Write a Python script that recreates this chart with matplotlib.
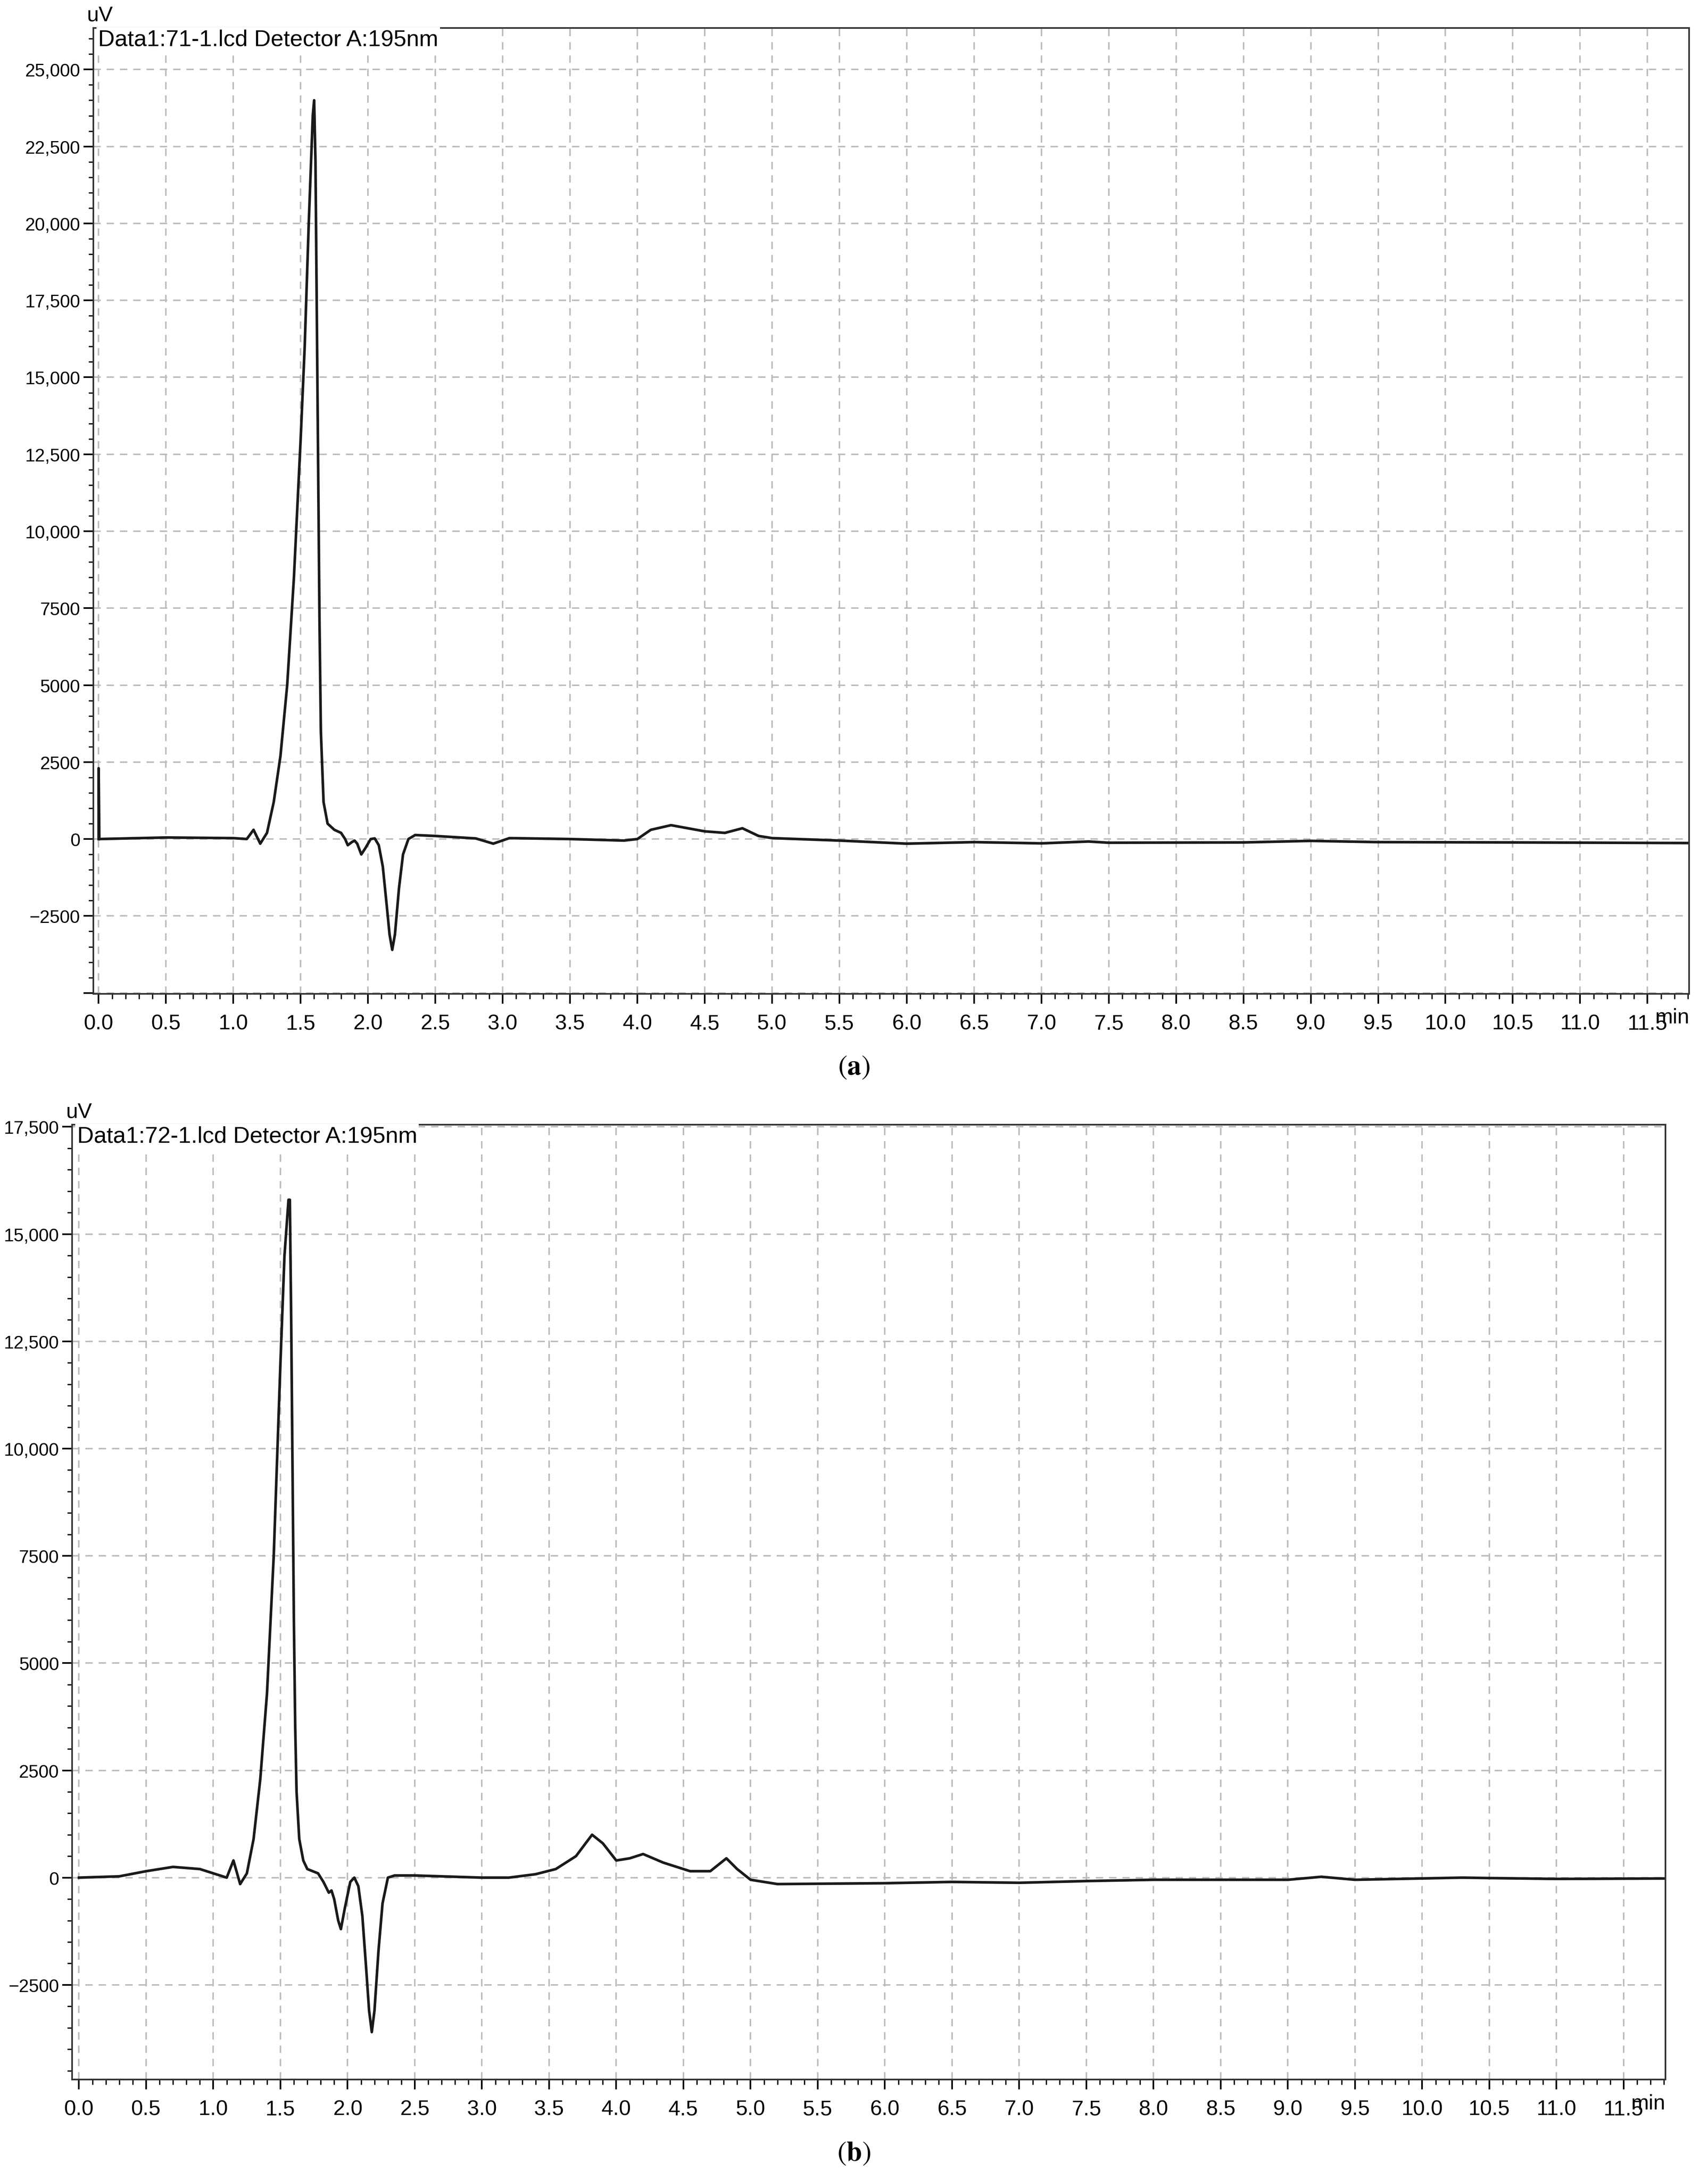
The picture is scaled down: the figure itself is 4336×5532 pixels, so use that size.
import matplotlib
matplotlib.use("Agg")
import matplotlib.pyplot as plt
from matplotlib.ticker import MultipleLocator, FuncFormatter

plt.rcParams['font.family'] = ['Liberation Sans', 'DejaVu Sans']
plt.rcParams['mathtext.fontset'] = 'stix'

# Chromatogram (a): 71-1.lcd
t_a = [0.0, 0.0, 0.005, 0.5, 1.0, 1.1, 1.15, 1.2, 1.25, 1.3, 1.35, 1.4, 1.45, 1.5, 1.53,
       1.56, 1.59, 1.6, 1.61, 1.62, 1.63, 1.64, 1.65, 1.67, 1.7, 1.75, 1.8, 1.83, 1.85,
       1.88, 1.9, 1.92, 1.95, 1.98, 2.02, 2.05, 2.08, 2.11, 2.14, 2.16, 2.18, 2.2, 2.23,
       2.26, 2.3, 2.35, 2.5, 2.8, 2.93, 3.05, 3.5, 3.9, 4.0, 4.1, 4.25, 4.5, 4.65, 4.78,
       4.9, 5.0, 5.5, 6.0, 6.5, 7.0, 7.35, 7.5, 8.5, 9.0, 9.5, 10.5, 11.8]
v_a = [0, 2300, 0, 50, 30, 0, 300, -150, 200, 1200, 2700, 5000, 8500, 13000, 16000,
       20000, 23500, 24000, 22000, 17000, 12000, 7000, 3500, 1200, 500, 300, 200, 0, -200,
       -100, -50, -150, -500, -300, 0, 20, -200, -900, -2200, -3100, -3600, -3100, -1600,
       -500, 0, 130, 100, 20, -150, 30, 0, -50, 0, 300, 450, 250, 200, 350,
       100, 30, -50, -150, -100, -140, -80, -120, -110, -60, -100, -110, -130]

# Chromatogram (b): 72-1.lcd
t_b = [0.0, 0.3, 0.5, 0.7, 0.9, 1.1, 1.15, 1.2, 1.25, 1.3, 1.35, 1.4, 1.45, 1.5, 1.53,
       1.56, 1.57, 1.58, 1.59, 1.6, 1.61, 1.62, 1.64, 1.67, 1.7, 1.78, 1.82, 1.86, 1.88,
       1.9, 1.93, 1.95, 1.98, 2.02, 2.05, 2.08, 2.11, 2.14, 2.16, 2.18, 2.2, 2.23, 2.26,
       2.3, 2.35, 2.5, 3.0, 3.2, 3.4, 3.55, 3.7, 3.82, 3.9, 4.0, 4.1, 4.2, 4.35, 4.55,
       4.7, 4.82, 4.9, 5.0, 5.2, 6.0, 6.5, 7.0, 7.5, 8.0, 9.0, 9.25, 9.5, 10.3, 10.5,
       11.0, 11.8]
v_b = [0, 30, 150, 250, 200, 0, 400, -150, 100, 900, 2300, 4300, 7500, 12000, 14500,
       15800, 15800, 13000, 9500, 6000, 3500, 2000, 900, 400, 200, 100, -100, -350, -300,
       -500, -1000, -1200, -700, -100, 0, -200, -900, -2200, -3100, -3600, -3100, -1700,
       -600, 0, 50, 50, 0, 0, 80, 200, 500, 1000, 800, 400, 450, 550, 350, 150,
       150, 450, 200, -50, -150, -130, -100, -120, -80, -50, -50, 20, -50, 0, -10,
       -30, -20]

panels = [
    dict(t=t_a, v=v_a, title="Data1:71-1.lcd Detector A:195nm", label="a",
         rect=[0.0546, 0.544, 0.9344, 0.443], xlim=(-0.04, 11.81), ylim=(-5030, 26350)),
    dict(t=t_b, v=v_b, title="Data1:72-1.lcd Detector A:195nm", label="b",
         rect=[0.0423, 0.046, 0.9327, 0.438], xlim=(-0.05, 11.81), ylim=(-4710, 17550)),
]


def fmt_y(val, pos):
    val = int(round(val))
    if val < -2500:
        return ""
    if abs(val) >= 10000:
        s = f"{abs(val):,}"
    else:
        s = f"{abs(val)}"
    return ("\u2212" + s) if val < 0 else s


fig = plt.figure(figsize=(4336 / 300, 5533 / 300), dpi=300)

for p in panels:
    ax = fig.add_axes(p["rect"])
    ax.plot(p["t"], p["v"], color="#1a1a1a", lw=1.6)
    ax.set_xlim(*p["xlim"])
    ax.set_ylim(*p["ylim"])
    ax.xaxis.set_major_locator(MultipleLocator(0.5))
    ax.xaxis.set_minor_locator(MultipleLocator(0.1))
    ax.yaxis.set_major_locator(MultipleLocator(2500))
    ax.yaxis.set_minor_locator(MultipleLocator(500))
    ax.xaxis.set_major_formatter(FuncFormatter(lambda v, pos: f"{v:.1f}" if v < 11.6 else ""))
    ax.yaxis.set_major_formatter(FuncFormatter(fmt_y))
    ax.grid(True, which="major", color="#bbbbbb", linestyle=(0, (5, 4)), lw=0.9)
    ax.tick_params(axis="x", which="major", labelsize=13, length=6, width=1, pad=6)
    ax.tick_params(axis="y", which="major", labelsize=11, length=6, width=1, pad=2)
    ax.tick_params(which="minor", length=3, width=0.8)
    for s in ax.spines.values():
        s.set_linewidth(1.0)
        s.set_color("#333333")
    ax.text(0.003, 0.999, p["title"], transform=ax.transAxes, ha="left", va="top",
            fontsize=14, bbox=dict(facecolor="white", edgecolor="none", pad=1))
    ax.text(-0.004, 1.003, "uV", transform=ax.transAxes, ha="left", va="bottom", fontsize=13)
    ax.annotate("min", xy=(1.0, 0), xycoords="axes fraction", xytext=(0, -8.5),
                textcoords="offset points", ha="right", va="top", fontsize=13)
    bottom = p["rect"][1]
    fig.text(0.5, bottom - 0.028, r"($\mathbf{%s}$)" % p["label"], ha="center", va="top",
             fontsize=17, family="STIXGeneral")

fig.savefig("out.png", dpi=300)
